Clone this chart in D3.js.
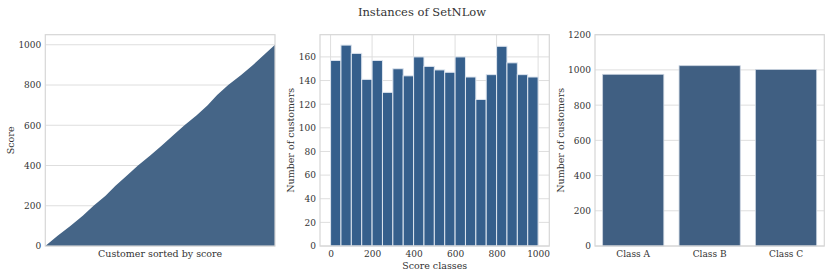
<!DOCTYPE html>
<html>
<head>
<meta charset="utf-8">
<script src="https://cdn.jsdelivr.net/npm/d3@7"></script>
<style>
  body { margin: 0; background: #fff; }
  svg text { font-family: "DejaVu Serif", serif; fill: #333; }
  .grid line { stroke: #dedede; stroke-width: 1; }
  .axis path, .axis line { display: none; }
</style>
</head>
<body>
<div id="chart"></div>
<script>

// histogram of scores, 20 bins of width 50
var binEdges = [0, 50, 100, 150, 200, 250, 300, 350, 400, 450, 500, 550, 600, 650, 700, 750, 800, 850, 900, 950, 1000];
var binCounts = [157, 170, 163, 141, 157, 130, 150, 144, 160, 152, 149, 147, 160, 143, 124, 145, 169, 155, 145, 143];

// customers per class
var classes = ["Class A", "Class B", "Class C"];
var classCounts = [975, 1024, 1002];

// sorted score curve: customer rank at each bin edge
var rankAtEdge = [0];
binCounts.forEach(function (c, i) { rankAtEdge.push(rankAtEdge[i] + c); });

var W = 831, H = 278;
var svg = d3.select("#chart").append("svg")
    .attr("width", W)
    .attr("height", H);

svg.append("text")
    .attr("x", 422).attr("y", 16)
    .attr("text-anchor", "middle")
    .style("font-size", "11.5px")
    .text("Instances of SetNLow");

var top_ = 34.7, bottom = 246;
var fmt = d3.format("d");

function frame(g, x0, x1) {
    g.append("rect")
        .attr("x", x0).attr("y", top_)
        .attr("width", x1 - x0).attr("height", bottom - top_)
        .attr("fill", "none")
        .attr("stroke", "#d6d6d6")
        .attr("stroke-width", 1.2);
}

function yGrid(g, y, x0, x1, ticks) {
    g.append("g").attr("class", "grid")
        .selectAll("line").data(ticks).enter().append("line")
        .attr("x1", x0).attr("x2", x1)
        .attr("y1", function (d) { return y(d); })
        .attr("y2", function (d) { return y(d); });
    g.append("g").attr("class", "axis")
        .attr("transform", "translate(" + (x0 - 2) + ",0)")
        .call(d3.axisLeft(y).tickValues(ticks).tickFormat(fmt).tickSize(0).tickPadding(2))
        .selectAll("text").style("font-size", "9px");
}

function yLabel(g, x, text) {
    g.append("text")
        .attr("transform", "translate(" + x + "," + ((top_ + bottom) / 2) + ") rotate(-90)")
        .attr("text-anchor", "middle")
        .style("font-size", "9.5px")
        .text(text);
}

// ---- panel 1: sorted scores
(function () {
    var x0 = 45.3, x1 = 275;
    var g = svg.append("g");
    var x = d3.scaleLinear().domain([0, rankAtEdge[rankAtEdge.length - 1]]).range([x0, x1]);
    var y = d3.scaleLinear().domain([0, 1050]).range([bottom, top_]);
    yGrid(g, y, x0, x1, [0, 200, 400, 600, 800, 1000]);
    var pts = rankAtEdge.map(function (r, i) { return [r, binEdges[i]]; });
    g.append("path")
        .datum(pts)
        .attr("fill", "#456587")
        .attr("d", d3.area()
            .x(function (d) { return x(d[0]); })
            .y0(y(0))
            .y1(function (d) { return y(d[1]); }));
    frame(g, x0, x1);
    yLabel(g, 14, "Score");
    g.append("text")
        .attr("x", (x0 + x1) / 2).attr("y", 257)
        .attr("text-anchor", "middle")
        .style("font-size", "9.5px")
        .text("Customer sorted by score");
})();

// ---- panel 2: histogram
(function () {
    var x0 = 320, x1 = 549.3;
    var g = svg.append("g");
    var x = d3.scaleLinear().domain([-51, 1054]).range([x0, x1]);
    var y = d3.scaleLinear().domain([0, 178.8]).range([bottom, top_]);
    var xt = [0, 200, 400, 600, 800, 1000];
    g.append("g").attr("class", "grid")
        .selectAll("line").data(xt).enter().append("line")
        .attr("x1", function (d) { return x(d); })
        .attr("x2", function (d) { return x(d); })
        .attr("y1", top_).attr("y2", bottom);
    yGrid(g, y, x0, x1, d3.range(0, 161, 20));
    g.append("g").attr("class", "axis")
        .attr("transform", "translate(0," + (bottom + 2) + ")")
        .call(d3.axisBottom(x).tickValues(xt).tickFormat(fmt).tickSize(0).tickPadding(3))
        .selectAll("text").style("font-size", "9px");
    g.selectAll("rect.bar").data(binCounts).enter().append("rect")
        .attr("class", "bar")
        .attr("x", function (d, i) { return x(binEdges[i]); })
        .attr("width", function (d, i) { return x(binEdges[i + 1]) - x(binEdges[i]); })
        .attr("y", function (d) { return y(d); })
        .attr("height", function (d) { return y(0) - y(d); })
        .attr("fill", "#355f8c")
        .attr("stroke", "#dde5ef")
        .attr("stroke-width", 1);
    frame(g, x0, x1);
    yLabel(g, 294, "Number of customers");
    g.append("text")
        .attr("x", (x0 + x1) / 2).attr("y", 269)
        .attr("text-anchor", "middle")
        .style("font-size", "9.5px")
        .text("Score classes");
})();

// ---- panel 3: class counts
(function () {
    var x0 = 595, x1 = 824.3;
    var g = svg.append("g");
    var x = d3.scaleBand().domain(classes).range([x0, x1]).paddingInner(0.2).paddingOuter(0.1);
    var y = d3.scaleLinear().domain([0, 1200]).range([bottom, top_]);
    yGrid(g, y, x0, x1, d3.range(0, 1201, 200));
    g.selectAll("rect.bar").data(classCounts).enter().append("rect")
        .attr("class", "bar")
        .attr("x", function (d, i) { return x(classes[i]); })
        .attr("width", x.bandwidth())
        .attr("y", function (d) { return y(d); })
        .attr("height", function (d) { return y(0) - y(d); })
        .attr("fill", "#405f82")
        .attr("stroke", "#c9d3df")
        .attr("stroke-width", 0.8);
    g.append("g").attr("class", "axis")
        .attr("transform", "translate(0," + (bottom + 2) + ")")
        .call(d3.axisBottom(x).tickSize(0).tickPadding(3))
        .selectAll("text").style("font-size", "9px");
    frame(g, x0, x1);
    yLabel(g, 564, "Number of customers");
})();

</script>
</body>
</html>
